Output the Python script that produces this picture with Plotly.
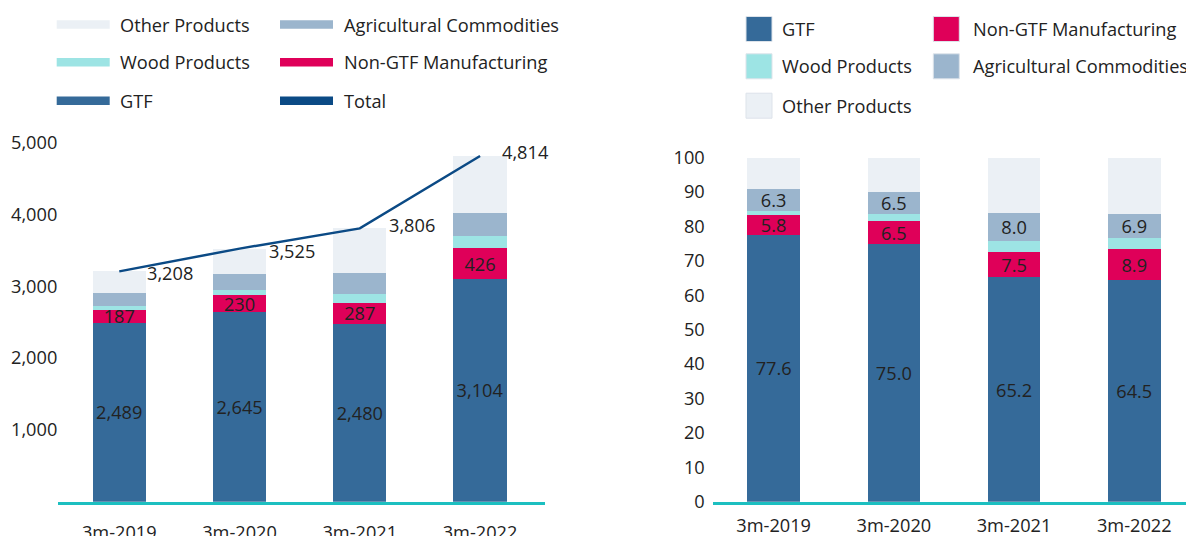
import plotly.graph_objects as go

# page body keeps its default 8px margin, so the figure is placed at (8, 8)
OFF = 8
W, H = 1194 - OFF, 536 - OFF

categories = ["3m-2019", "3m-2020", "3m-2021", "3m-2022"]

# Left chart: absolute values
abs_gtf = [2489, 2645, 2480, 3104]
abs_non_gtf = [187, 230, 287, 426]
abs_wood = [50, 70, 120, 165]
abs_agri = [185, 226, 300, 332]
abs_other = [297, 354, 619, 787]
abs_total = [3208, 3525, 3806, 4814]

# Right chart: shares (%)
pct_gtf = [77.6, 75.0, 65.2, 64.5]
pct_non_gtf = [5.8, 6.5, 7.5, 8.9]
pct_wood = [1.2, 2.0, 3.1, 3.3]
pct_agri = [6.3, 6.5, 8.0, 6.9]
pct_other = [9.1, 10.0, 16.2, 16.4]

left_ticks = [1000, 2000, 3000, 4000, 5000]
right_ticks = [0, 10, 20, 30, 40, 50, 60, 70, 80, 90, 100]

NAMES = {
    "gtf": "GTF",
    "ngtf": "Non-GTF Manufacturing",
    "wood": "Wood Products",
    "agri": "Agricultural Commodities",
    "other": "Other Products",
    "total": "Total",
}
COLORS = {
    "gtf": "#356A99",
    "ngtf": "#DF0059",
    "wood": "#9DE4E4",
    "agri": "#9BB5CD",
    "other": "#EBF0F5",
    "total": "#0B4A85",
}
FONT = "Open Sans"
FS = 18.2
TXT = "#222222"
AXIS_TEAL = "#1CBFC0"

# label offsets (pixels) for the total labels
total_xshift = [26, 27, 27, 20]
total_yshift = [-2, -2, 3, 4]

fig = go.Figure()

def px_x(p):
    return (p - OFF) / W

def px_y(p):
    return 1 - (p - OFF) / H

# ---------- left stacked bars ----------
left_series = [
    ("gtf", abs_gtf, True),
    ("ngtf", abs_non_gtf, True),
    ("wood", abs_wood, False),
    ("agri", abs_agri, False),
    ("other", abs_other, False),
]
for key, vals, lab in left_series:
    fig.add_trace(go.Bar(
        x=categories, y=vals, name=NAMES[key], xaxis="x", yaxis="y",
        marker=dict(color=COLORS[key], line=dict(width=0)),
        width=0.443,
        texttemplate="%{y:,.0f}" if lab else None,
        textposition="inside" if lab else "none",
        insidetextanchor="middle", textangle=0,
        textfont=dict(family=FONT, size=FS, color=TXT),
        showlegend=False, hoverinfo="skip",
    ))

fig.add_trace(go.Scatter(
    x=categories, y=abs_total, mode="lines", name=NAMES["total"],
    xaxis="x", yaxis="y",
    line=dict(color=COLORS["total"], width=2.5),
    showlegend=False, hoverinfo="skip",
))

# ---------- right stacked bars ----------
right_series = [
    ("gtf", pct_gtf, True),
    ("ngtf", pct_non_gtf, True),
    ("wood", pct_wood, False),
    ("agri", pct_agri, True),
    ("other", pct_other, False),
]
for key, vals, lab in right_series:
    fig.add_trace(go.Bar(
        x=categories, y=vals, name=NAMES[key], xaxis="x2", yaxis="y2",
        marker=dict(color=COLORS[key], line=dict(width=0)),
        width=0.438,
        texttemplate="%{y:.1f}" if lab else None,
        textposition="inside" if lab else "none",
        insidetextanchor="middle", textangle=0,
        textfont=dict(family=FONT, size=FS, color=TXT),
        showlegend=False, hoverinfo="skip",
    ))

annotations = []
for c, t, dx, dy in zip(categories, abs_total, total_xshift, total_yshift):
    annotations.append(dict(
        x=c, y=t, xref="x", yref="y", text=f"{t:,}",
        xanchor="left", yanchor="middle", xshift=dx, yshift=dy, showarrow=False,
        font=dict(family=FONT, size=FS, color=TXT),
    ))

shapes = []

# ---------- custom legends ----------
left_legend = [
    [("other", 56.7, 118), ("agri", 280, 342)],
    [("wood", 56.7, 118), ("ngtf", 280, 342)],
    [("gtf", 56.7, 118), ("total", 280, 342)],
]
left_rows_y = [24.5, 62.3, 100.7]
for row, yc in zip(left_legend, left_rows_y):
    for key, sx, tx in row:
        shapes.append(dict(
            type="rect", xref="paper", yref="paper",
            x0=px_x(sx), x1=px_x(sx + 53), y0=px_y(yc + 4.3), y1=px_y(yc - 4.3),
            fillcolor=COLORS[key], line=dict(width=0), layer="above",
        ))
        annotations.append(dict(
            x=px_x(tx), y=px_y(yc), xref="paper", yref="paper",
            text=NAMES[key], xanchor="left", yanchor="middle", showarrow=False,
            font=dict(family=FONT, size=FS, color=TXT),
        ))

right_legend = [
    [("gtf", 746, 780), ("ngtf", 933.3, 970.5)],
    [("wood", 746, 780), ("agri", 933.3, 970.5)],
    [("other", 746, 780)],
]
right_rows_y = [29, 66.3, 105.7]
for row, yc in zip(right_legend, right_rows_y):
    for key, sx, tx in row:
        shapes.append(dict(
            type="rect", xref="paper", yref="paper",
            x0=px_x(sx), x1=px_x(sx + 26), y0=px_y(yc + 12.5), y1=px_y(yc - 12.5),
            fillcolor=COLORS[key], line=dict(width=1, color="#DDE3EA"), layer="above",
        ))
        annotations.append(dict(
            x=px_x(tx), y=px_y(yc), xref="paper", yref="paper",
            text=NAMES[key], xanchor="left", yanchor="middle", showarrow=False,
            font=dict(family=FONT, size=FS, color=TXT),
        ))

axis_font = dict(family=FONT, size=FS, color=TXT)

fig.update_layout(
    template="none",
    width=W, height=H,
    margin=dict(l=0, r=0, t=0, b=0, pad=0, autoexpand=False),
    paper_bgcolor="white", plot_bgcolor="white",
    barmode="stack",
    uniformtext=dict(minsize=FS, mode="show"),
    font=dict(family=FONT, size=FS, color=TXT),
    showlegend=False,
    xaxis=dict(
        domain=[px_x(58.3), px_x(545)], range=[-0.507, 3.54],
        showline=True, linecolor=AXIS_TEAL, linewidth=3,
        showgrid=False, zeroline=False, ticks="", tickfont=axis_font,
        anchor="y", ticklabelstandoff=12, automargin=False,
    ),
    yaxis=dict(
        domain=[px_y(501.7), px_y(142.7)], range=[0, 5000],
        tickvals=left_ticks, tickformat=",",
        showline=False, showgrid=False, zeroline=False, ticks="",
        tickfont=axis_font, anchor="x", ticklabelstandoff=0, automargin=False,
    ),
    xaxis2=dict(
        domain=[px_x(712.7), 1.0], range=[-0.507, 3.497],
        showline=True, linecolor=AXIS_TEAL, linewidth=3,
        showgrid=False, zeroline=False, ticks="", tickfont=axis_font,
        anchor="y2", ticklabelstandoff=5, automargin=False,
    ),
    yaxis2=dict(
        domain=[px_y(501.7), px_y(157.7)], range=[0, 100],
        tickvals=right_ticks,
        showline=False, showgrid=False, zeroline=False, ticks="",
        tickfont=axis_font, anchor="x2", ticklabelstandoff=7, automargin=False,
    ),
    annotations=annotations,
    shapes=shapes,
)

fig.write_html("out.html")
